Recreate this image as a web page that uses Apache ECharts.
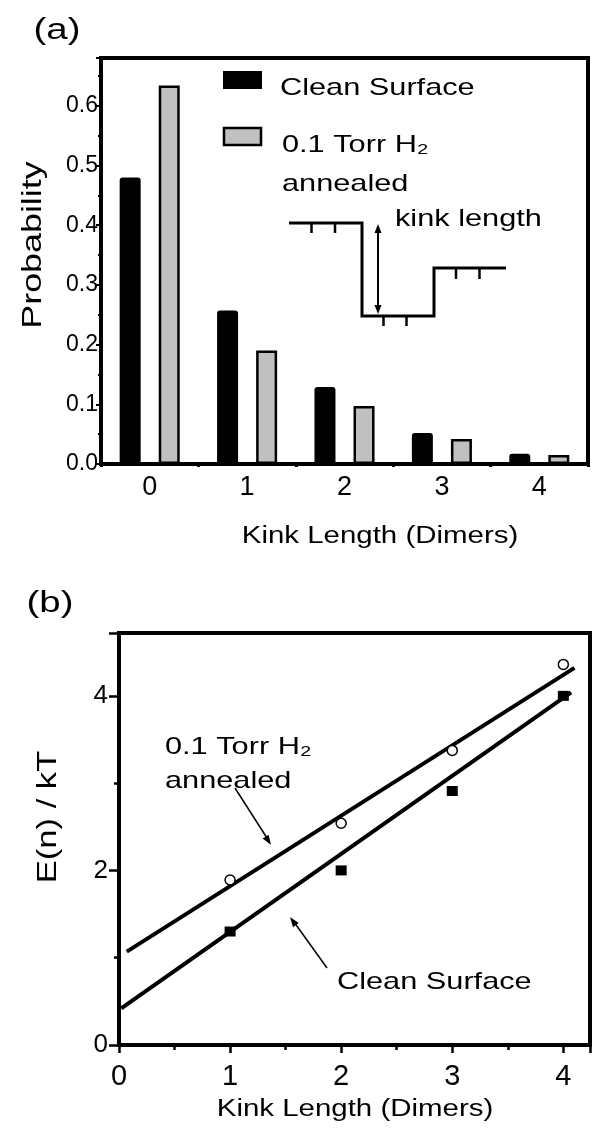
<!DOCTYPE html>
<html>
<head>
<meta charset="utf-8">
<script src="https://cdn.jsdelivr.net/npm/echarts@6/dist/echarts.min.js"></script>
<style>
  html, body { margin: 0; padding: 0; background: #fff; }
  #chart { width: 593px; height: 1129px; }
</style>
</head>
<body>
<div id="chart"></div>
<script>
// (a) kink length distribution
var kinkCategories = ['0', '1', '2', '3', '4']
var cleanProbability = [0.48, 0.257, 0.129, 0.052, 0.017]
var annealedProbability = [0.634, 0.19, 0.097, 0.042, 0.015]

// (b) kink energy vs length
var kinkLength = [1, 2, 3, 4]
var cleanEnergy = [1.3, 2.0, 2.91, 4.0]
var annealedEnergy = [1.89, 2.54, 3.375, 4.36]
// end points of the drawn fit lines
var cleanFit = [[0.02, 0.42], [4.07, 4.04]]
var annealedFit = [[0.07, 1.07], [4.1, 4.32]]

var FONT = '"Liberation Sans", Arial, Helvetica, sans-serif'
var S = 1.28 // the figure's lettering is wider than Arial

function label(text, x, y, size, align, rotation) {
  return {
    type: 'text', x: x, y: y, scaleX: S, rotation: rotation || 0, z: 20,
    style: {
      text: text, font: size + 'px ' + FONT, fill: '#000',
      textAlign: align || 'left', textVerticalAlign: 'middle'
    }
  }
}
function seg(x1, y1, x2, y2, w) {
  return { type: 'line', z: 20, shape: { x1: x1, y1: y1, x2: x2, y2: y2 }, style: { stroke: '#000', lineWidth: w } }
}
function head(x1, y1, x2, y2, len, half) {
  var dx = x2 - x1, dy = y2 - y1, d = Math.sqrt(dx * dx + dy * dy)
  var ux = dx / d, uy = dy / d
  var bx = x2 - ux * len, by = y2 - uy * len
  return {
    type: 'polygon', z: 20,
    shape: { points: [[x2, y2], [bx - uy * half, by + ux * half], [bx + uy * half, by - ux * half]] },
    style: { fill: '#000' }
  }
}

function zip(xs, ys) {
  return xs.map(function (x, i) { return [x, ys[i]] })
}

var chart = echarts.init(document.getElementById('chart'), null, { renderer: 'canvas' })

var option = {
  animation: false,
  backgroundColor: '#fff',
  grid: [
    { left: 101, top: 58, width: 487, height: 406, show: true, borderColor: '#000', borderWidth: 4 },
    { left: 119, top: 633, width: 471, height: 412, show: true, borderColor: '#000', borderWidth: 4 }
  ],
  xAxis: [
    {
      type: 'category', gridIndex: 0, data: kinkCategories,
      axisLine: { show: false },
      axisTick: { show: true, length: 3, lineStyle: { color: '#000', width: 3 } },
      axisLabel: { color: '#000', fontSize: 27, fontFamily: FONT, margin: 10 },
      splitLine: { show: false }
    },
    {
      type: 'value', gridIndex: 1, min: 0, max: 4.24, interval: 1,
      axisLine: { show: false },
      axisTick: { show: true, length: 8, lineStyle: { color: '#000', width: 2.5 } },
      minorTick: { show: true, splitNumber: 2, length: 5, lineStyle: { color: '#000', width: 2.5 } },
      axisLabel: {
        color: '#000', fontSize: 29, fontFamily: FONT, margin: 17,
        formatter: function (v) { return Math.abs(v - Math.round(v)) < 1e-6 ? String(Math.round(v)) : '' }
      },
      splitLine: { show: false }
    }
  ],
  yAxis: [
    {
      type: 'value', gridIndex: 0, min: 0, max: 0.68, interval: 0.1,
      axisLine: { show: false },
      axisTick: { show: true, length: 5, lineStyle: { color: '#000', width: 2 } },
      minorTick: { show: true, splitNumber: 2, length: 3, lineStyle: { color: '#000', width: 2 } },
      axisLabel: {
        color: '#000', fontSize: 23, fontFamily: FONT, margin: 3,
        formatter: function (v) { return Math.abs(v * 10 - Math.round(v * 10)) < 1e-6 ? v.toFixed(1) : '' }
      },
      splitLine: { show: false }
    },
    {
      type: 'value', gridIndex: 1, min: 0, max: 4.72, interval: 2,
      axisLine: { show: false },
      axisTick: { show: true, length: 10, lineStyle: { color: '#000', width: 2.5 } },
      minorTick: { show: true, splitNumber: 2, length: 5, lineStyle: { color: '#000', width: 2.5 } },
      axisLabel: {
        color: '#000', fontSize: 26, fontFamily: FONT, margin: 11,
        formatter: function (v) { return Math.abs(v / 2 - Math.round(v / 2)) < 1e-6 ? String(Math.round(v)) : '' }
      },
      splitLine: { show: false }
    }
  ],
  series: [
    {
      name: 'Clean Surface', type: 'bar', xAxisIndex: 0, yAxisIndex: 0,
      data: cleanProbability, barWidth: 21, barGap: '86%',
      itemStyle: { color: '#000', borderRadius: [3, 3, 0, 0] }
    },
    {
      name: '0.1 Torr H₂ annealed', type: 'bar', xAxisIndex: 0, yAxisIndex: 0,
      data: annealedProbability, barWidth: 21, barGap: '86%',
      itemStyle: { color: '#c0c0c0', borderColor: '#000', borderWidth: 2.5 }
    },
    {
      name: 'Clean Surface fit', type: 'line', xAxisIndex: 1, yAxisIndex: 1,
      data: cleanFit, symbol: 'none', lineStyle: { color: '#000', width: 4 }
    },
    {
      name: '0.1 Torr H₂ annealed fit', type: 'line', xAxisIndex: 1, yAxisIndex: 1,
      data: annealedFit, symbol: 'none', lineStyle: { color: '#000', width: 4 }
    },
    {
      name: 'Clean Surface', type: 'scatter', xAxisIndex: 1, yAxisIndex: 1, z: 5,
      data: zip(kinkLength, cleanEnergy), symbol: 'rect', symbolSize: [11, 10],
      itemStyle: { color: '#000', opacity: 1 }
    },
    {
      name: '0.1 Torr H₂ annealed', type: 'scatter', xAxisIndex: 1, yAxisIndex: 1, z: 5,
      data: zip(kinkLength, annealedEnergy), symbol: 'circle', symbolSize: 10,
      itemStyle: { color: '#fff', borderColor: '#000', borderWidth: 1.5, opacity: 1 }
    }
  ],
  graphic: {
    elements: [
      label('(a)', 57, 31, 30, 'center'),
      label('(b)', 50, 604, 30, 'center'),

      // legend of panel (a)
      { type: 'rect', z: 20, shape: { x: 223, y: 71, width: 39, height: 18 }, style: { fill: '#000' } },
      { type: 'rect', z: 20, shape: { x: 224, y: 128, width: 37, height: 17 }, style: { fill: '#c0c0c0', stroke: '#000', lineWidth: 2.5 } },
      label('Clean Surface', 280, 88.5, 24),
      label('0.1 Torr H₂', 282, 145, 24),
      label('annealed', 282, 184, 24),

      // step-edge sketch
      {
        type: 'polyline', z: 20,
        shape: { points: [[289, 223], [362, 223], [362, 316], [434, 316], [434, 268], [506, 268]] },
        style: { stroke: '#000', lineWidth: 3, fill: null }
      },
      seg(311.5, 223, 311.5, 233, 2.5), seg(335, 223, 335, 233, 2.5),
      seg(383.5, 316, 383.5, 326, 2.5), seg(406.5, 316, 406.5, 326, 2.5),
      seg(456, 268, 456, 279, 2.5), seg(479.5, 268, 479.5, 279, 2.5),
      seg(378, 231, 378, 306, 2),
      head(378, 300, 378, 224, 9, 3.5),
      head(378, 232, 378, 314, 9, 3.5),
      label('kink length', 395, 219, 24),

      label('Probability', 33, 245, 28, 'center', Math.PI / 2),
      label('Kink Length (Dimers)', 380, 537, 23, 'center'),

      // panel (b)
      label('E(n) / kT', 48.5, 817, 27, 'center', Math.PI / 2),
      label('Kink Length (Dimers)', 355, 1110, 23, 'center'),
      label('0.1 Torr H₂', 165, 747, 24),
      label('annealed', 165, 781, 24),
      seg(235, 788, 267, 838, 1.5),
      head(235, 788, 271, 845, 10, 3.5),
      label('Clean Surface', 337, 982, 24),
      seg(327, 968, 294, 922, 1.5),
      head(327, 968, 290, 917, 10, 3.5)
    ]
  }
}

chart.setOption(option)
</script>
</body>
</html>
